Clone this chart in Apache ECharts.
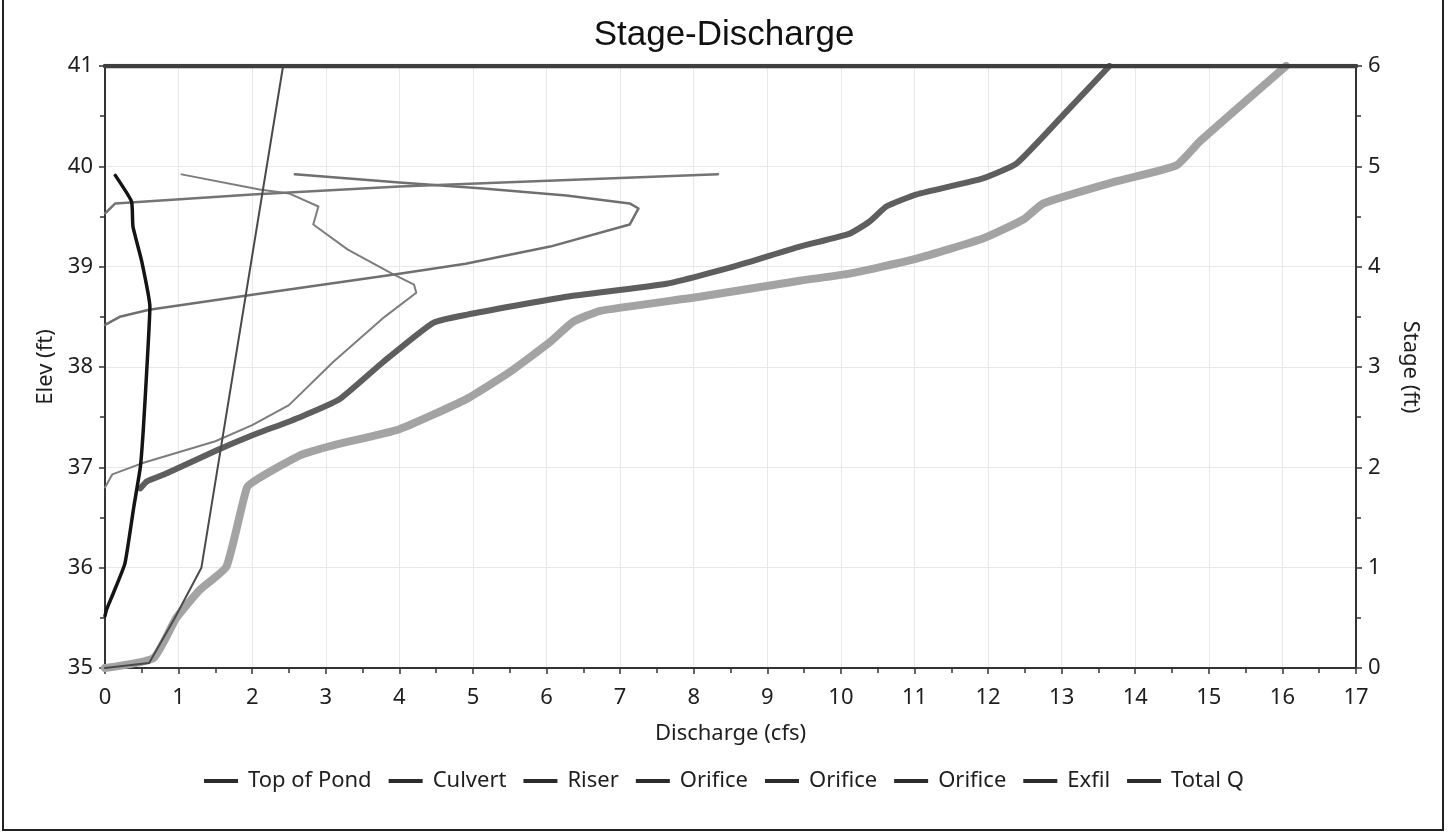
<!DOCTYPE html>
<html><head><meta charset="utf-8">
<script src="https://cdn.jsdelivr.net/npm/echarts@6/dist/echarts.min.js"></script>
<style>html,body{margin:0;padding:0;background:#fff}#c{width:1448px;height:833px}</style>
</head><body><div id="c"></div>
<script>
const chartTitle = 'Stage-Discharge';
const xName = 'Discharge (cfs)';
const yLeftName = 'Elev (ft)';
const yRightName = 'Stage (ft)';
const xRange = [0, 17];
const elevRange = [35, 41];
const stageRange = [0, 6];
const legendNames = ['Top of Pond', 'Culvert', 'Riser', 'Orifice#1', 'Orifice#2', 'Orifice#3', 'Exfil', 'Total Q'];

// [discharge cfs, elevation ft]
const topOfPond = [[0, 41], [17, 41]];
const culvert = [[0, 35], [0.6, 35.05], [0.95, 35.5], [1.31, 36.0], [2.42, 41.0]];
const riser = [[0.48, 36.79], [0.57, 36.86], [0.84, 36.94], [1.52, 37.17], [1.97, 37.31], [2.65, 37.5], [3.19, 37.68],
  [3.78, 38.05], [4.46, 38.44], [4.91, 38.52], [6.27, 38.7], [7.63, 38.83], [8.54, 39.0], [9.44, 39.2], [10.12, 39.33],
  [10.39, 39.45], [10.62, 39.6], [11.03, 39.72], [11.93, 39.88], [12.39, 40.03], [13.02, 40.51], [13.65, 41.0]];
const orifice1 = [[0, 36.8], [0.1, 36.93], [0.5, 37.04], [1.5, 37.26], [2.0, 37.42], [2.5, 37.62], [3.1, 38.05],
  [3.8, 38.5], [4.23, 38.74], [4.2, 38.82], [3.9, 38.93], [3.3, 39.17], [2.83, 39.42], [2.9, 39.6], [2.5, 39.73],
  [2.1, 39.77], [1.04, 39.92]];
const orifice2 = [[0, 38.42], [0.2, 38.5], [0.6, 38.57], [2.0, 38.72], [4.0, 38.93], [4.9, 39.03], [6.05, 39.2],
  [7.13, 39.42], [7.25, 39.58], [7.13, 39.63], [6.27, 39.71], [5.14, 39.78], [4.0, 39.84], [2.58, 39.92]];
const orifice3 = [[0, 39.53], [0.14, 39.63], [2.0, 39.72], [4.0, 39.8], [5.4, 39.84], [8.33, 39.92]];
const exfil = [[0, 35.52], [0.02, 35.58], [0.11, 35.74], [0.27, 36.04], [0.39, 36.6], [0.48, 37.0], [0.52, 37.37],
  [0.57, 38.0], [0.61, 38.6], [0.5, 39.05], [0.38, 39.4], [0.36, 39.65], [0.14, 39.91]];
const totalQ = [[0, 35], [0.66, 35.1], [0.97, 35.5], [1.29, 35.78], [1.65, 36.01], [1.93, 36.8], [2.11, 36.9],
  [2.65, 37.12], [3.1, 37.22], [4.0, 37.38], [4.91, 37.68], [5.5, 37.95], [6.05, 38.25], [6.36, 38.45], [6.73, 38.56],
  [8.08, 38.7], [9.44, 38.86], [10.12, 38.93], [11.03, 39.08], [11.93, 39.28], [12.48, 39.47], [12.75, 39.63],
  [13.74, 39.85], [14.56, 40.01], [14.88, 40.25], [16.05, 41.0]];

const font = 'Noto Sans';
const fs = 22;
const chart = echarts.init(document.getElementById('c'));

function line(name, data, color, width, z, smooth) {
  return { name, type: 'line', data, symbol: 'none', smooth: smooth || false, z,
    lineStyle: { color, width, cap: 'round', join: 'round' }, itemStyle: { color }, silent: true, animation: false };
}
const tickStyle = { color: '#333', width: 1.5 };
const labelStyle = { fontFamily: font, fontSize: fs, color: '#1e1e1e' };

chart.setOption({
  backgroundColor: '#fff',
  animation: false,
  title: { text: chartTitle, left: 'center', top: 13,
    textStyle: { fontFamily: 'Liberation Sans', fontWeight: 'normal', fontSize: 35, color: '#111' } },
  grid: { left: 105, right: 92, top: 66, bottom: 165 },
  legend: {
    data: legendNames, bottom: 36, left: 'center', itemWidth: 34, itemHeight: 4, itemGap: 17,
    icon: 'rect',
    formatter: n => n.replace(/#\d$/, ''),
    textStyle: { fontFamily: font, fontSize: fs, color: '#1e1e1e', padding: [0, 0, 0, 5] },
    itemStyle: { color: '#2b2b2b' }
  },
  xAxis: {
    type: 'value', min: xRange[0], max: xRange[1], interval: 1,
    name: xName, nameLocation: 'middle', nameGap: 55,
    nameTextStyle: labelStyle,
    axisLine: { show: true, lineStyle: { color: '#333', width: 2 } },
    axisTick: { show: true, length: 6, lineStyle: tickStyle },
    minorTick: { show: true, splitNumber: 2, length: 5, lineStyle: tickStyle },
    axisLabel: Object.assign({ margin: 19 }, labelStyle),
    splitLine: { show: true, lineStyle: { color: '#e8e8e8', width: 1 } }
  },
  yAxis: [{
    type: 'value', min: elevRange[0], max: elevRange[1], interval: 1, position: 'left',
    name: yLeftName, nameLocation: 'middle', nameRotate: 90, nameGap: 44,
    nameTextStyle: labelStyle,
    axisLine: { show: true, lineStyle: { color: '#333', width: 2 } },
    axisTick: { show: true, length: 6, lineStyle: tickStyle },
    minorTick: { show: true, splitNumber: 2, length: 5, lineStyle: tickStyle },
    axisLabel: Object.assign({ margin: 12 }, labelStyle),
    splitLine: { show: true, lineStyle: { color: '#e8e8e8', width: 1 } }
  }, {
    type: 'value', min: stageRange[0], max: stageRange[1], interval: 1, position: 'right',
    name: yRightName, nameLocation: 'middle', nameRotate: -90, nameGap: 43,
    nameTextStyle: labelStyle,
    axisLine: { show: true, lineStyle: { color: '#333', width: 2 } },
    axisTick: { show: true, length: 6, lineStyle: tickStyle },
    minorTick: { show: true, splitNumber: 2, length: 5, lineStyle: tickStyle },
    axisLabel: Object.assign({ margin: 12 }, labelStyle),
    splitLine: { show: false }
  }],
  series: [
    line('Total Q', totalQ, '#a3a3a3', 8, 2, 0.15),
    line('Riser', riser, '#5e5e5e', 6, 3, 0.15),
    line('Orifice#1', orifice1, '#7d7d7d', 2, 4),
    line('Orifice#2', orifice2, '#6f6f6f', 2.5, 4),
    line('Orifice#3', orifice3, '#747474', 2.5, 4),
    line('Culvert', culvert, '#4a4a4a', 2, 5),
    line('Exfil', exfil, '#141414', 3.5, 6, 0.15),
    line('Top of Pond', topOfPond, '#3e3e3e', 4.5, 7)
  ],
  graphic: [{
    type: 'rect', silent: true, z: 100,
    shape: { x: 3, y: -5, width: 1440, height: 835 },
    style: { fill: 'none', stroke: '#222', lineWidth: 2 }
  }]
});
</script>
</body></html>
